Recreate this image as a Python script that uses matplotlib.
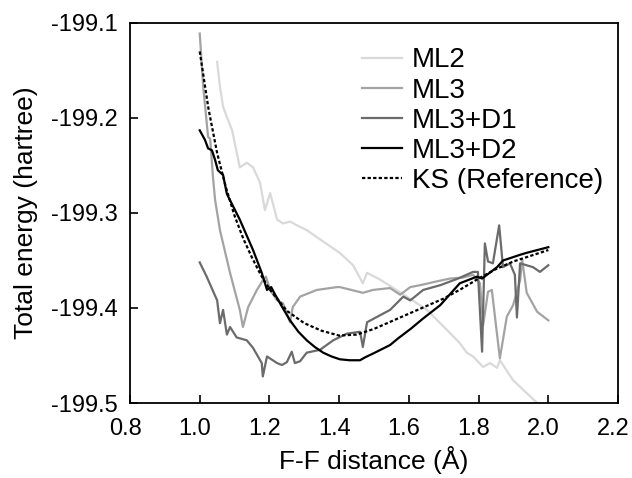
import numpy as np
import matplotlib
matplotlib.use("Agg")
import matplotlib.pyplot as plt
import matplotlib.transforms as mtransforms

plt.rcParams['font.family'] = ['Liberation Sans', 'DejaVu Sans']
plt.rcParams['axes.unicode_minus'] = False

# values (F-F distance in Angstrom, energy in hartree)
ml2_x = [1.05, 1.058, 1.067, 1.078, 1.093, 1.115, 1.135, 1.153, 1.173, 1.187, 1.202, 1.222,
         1.239, 1.259, 1.279, 1.307, 1.354, 1.402, 1.44, 1.468, 1.48, 1.517, 1.594, 1.652,
         1.709, 1.746, 1.766, 1.784, 1.813, 1.833, 1.853, 1.861, 1.899, 1.968, 2.0]
ml2_y = [-199.141, -199.167, -199.188, -199.199, -199.213, -199.252, -199.247, -199.252,
         -199.268, -199.297, -199.279, -199.307, -199.311, -199.309, -199.313, -199.318,
         -199.330, -199.342, -199.355, -199.374, -199.363, -199.370, -199.388, -199.402,
         -199.423, -199.437, -199.447, -199.451, -199.462, -199.458, -199.463, -199.455,
         -199.476, -199.500, -199.52]

ml3_x = [1.0, 1.01, 1.024, 1.03, 1.038, 1.044, 1.058, 1.087, 1.115, 1.124, 1.139, 1.164,
         1.181, 1.19, 1.202, 1.222, 1.239, 1.259, 1.267, 1.288, 1.336, 1.394, 1.402, 1.468,
         1.497, 1.546, 1.575, 1.604, 1.632, 1.68, 1.718, 1.755, 1.784, 1.804, 1.813, 1.827,
         1.838, 1.861, 1.881, 1.899, 1.919, 1.925, 1.938, 1.968, 2.0]
ml3_y = [-199.111, -199.167, -199.220, -199.222, -199.262, -199.286, -199.318, -199.363,
         -199.402, -199.420, -199.399, -199.381, -199.371, -199.367, -199.381, -199.392,
         -199.395, -199.415, -199.399, -199.388, -199.381, -199.378, -199.378, -199.384,
         -199.381, -199.379, -199.386, -199.378, -199.376, -199.372, -199.369, -199.368,
         -199.365, -199.374, -199.418, -199.383, -199.381, -199.453, -199.409, -199.397,
         -199.371, -199.349, -199.384, -199.404, -199.413]

ml3d1_x = [1.0, 1.02, 1.05, 1.058, 1.067, 1.078, 1.087, 1.106, 1.135, 1.153, 1.178, 1.181,
           1.193, 1.222, 1.236, 1.25, 1.264, 1.273, 1.288, 1.307, 1.345, 1.383, 1.422, 1.46,
           1.468, 1.48, 1.546, 1.584, 1.604, 1.641, 1.69, 1.741, 1.784, 1.798, 1.81, 1.818,
           1.827, 1.841, 1.859, 1.87, 1.89, 1.904, 1.91, 1.919, 1.956, 1.976, 2.0]
ml3d1_y = [-199.352, -199.367, -199.392, -199.416, -199.402, -199.428, -199.420, -199.431,
           -199.434, -199.442, -199.458, -199.472, -199.451, -199.458, -199.460, -199.457,
           -199.446, -199.458, -199.456, -199.447, -199.444, -199.434, -199.427, -199.425,
           -199.441, -199.415, -199.402, -199.388, -199.392, -199.381, -199.376, -199.369,
           -199.362, -199.362, -199.446, -199.332, -199.351, -199.353, -199.313, -199.357,
           -199.353, -199.365, -199.410, -199.353, -199.357, -199.362, -199.355]

ml3d2_x = [1.0, 1.015, 1.024, 1.035, 1.044, 1.052, 1.067, 1.078, 1.115, 1.153, 1.178, 1.193,
           1.205, 1.215, 1.235, 1.259, 1.283, 1.307, 1.33, 1.354, 1.378, 1.402, 1.43, 1.46,
           1.474, 1.497, 1.546, 1.569, 1.605, 1.641, 1.69, 1.746, 1.795, 1.81, 1.853, 1.87,
           1.919, 1.937, 2.0]
ml3d2_y = [-199.213, -199.223, -199.232, -199.234, -199.244, -199.255, -199.260, -199.280,
           -199.307, -199.339, -199.363, -199.381, -199.378, -199.385, -199.398, -199.413,
           -199.425, -199.434, -199.441, -199.447, -199.451, -199.454, -199.455, -199.455,
           -199.452, -199.448, -199.439, -199.432, -199.422, -199.411, -199.397, -199.374,
           -199.367, -199.369, -199.357, -199.350, -199.344, -199.342, -199.336]

ks_x = [1.0, 1.025, 1.05, 1.075, 1.1, 1.125, 1.15, 1.175, 1.2, 1.25, 1.3, 1.35, 1.4, 1.45,
        1.5, 1.55, 1.6, 1.65, 1.7, 1.75, 1.8, 1.85, 1.9, 1.95, 2.0]
ks_y = [-199.130, -199.190, -199.237, -199.273, -199.303, -199.327, -199.347, -199.365,
        -199.380, -199.403, -199.416, -199.424, -199.429, -199.428, -199.422, -199.414,
        -199.406, -199.398, -199.390, -199.380, -199.369, -199.359, -199.351, -199.345,
        -199.339]

fig = plt.figure(figsize=(6.32, 4.78), dpi=100)
ax = fig.add_axes([0.2057, 0.1569, 0.7722, 0.7950])

lw = 1.6
ax.plot(ml2_x, ml2_y, color='#d9d9d9', lw=lw, label='ML2')
ax.plot(ml3_x, ml3_y, color='#a3a3a3', lw=lw, label='ML3')
ax.plot(ml3d1_x, ml3d1_y, color='#6b6b6b', lw=lw, label='ML3+D1')
ax.plot(ml3d2_x, ml3d2_y, color='black', lw=lw, label='ML3+D2')
ax.plot(ks_x, ks_y, color='black', lw=lw, ls=(0, (1.5, 1)), label='KS (Reference)')

ax.set_xlim(0.8, 2.2)
ax.set_ylim(-199.5, -199.1)
ax.set_xticks(np.arange(0.8, 2.21, 0.2))
ax.set_yticks([-199.5, -199.4, -199.3, -199.2, -199.1])
ax.set_xticklabels(['%.1f' % v for v in np.arange(0.8, 2.21, 0.2)])
ax.set_yticklabels(['-199.5', '-199.4', '-199.3', '-199.2', '-199.1'])
ax.tick_params(direction='in', length=6, width=1.2, labelsize=17)
ax.tick_params(axis='x', pad=11)
ax.tick_params(axis='y', pad=8.5)
for s in ax.spines.values():
    s.set_linewidth(1.3)

# x tick labels sit a little left of their ticks in the reference
shift = mtransforms.ScaledTranslation(-5 / 100, 0, fig.dpi_scale_trans)
for lab in ax.get_xticklabels():
    lab.set_transform(lab.get_transform() + shift)

ax.set_xlabel('F-F distance (Å)', fontsize=19, labelpad=4)
ax.set_ylabel('Total energy (hartree)', fontsize=19, labelpad=10)

ax.legend(loc='upper right', bbox_to_anchor=(0.992, 0.965), frameon=False, fontsize=20,
          handlelength=1.45, handletextpad=0.35, labelspacing=0.15, borderaxespad=0)

fig.savefig('out.png', dpi=100)
